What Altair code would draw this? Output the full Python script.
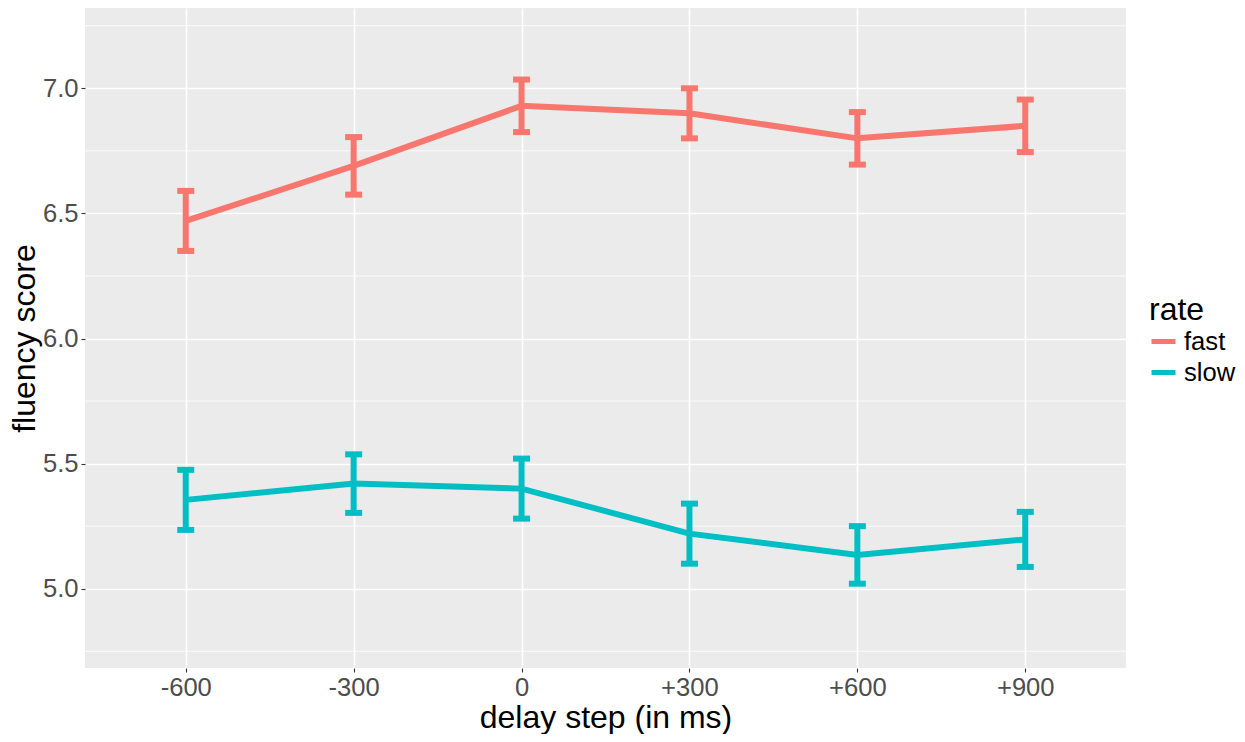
import altair as alt
import pandas as pd

steps = ["-600", "-300", "0", "+300", "+600", "+900"]
fast_mean = [6.47, 6.69, 6.93, 6.90, 6.80, 6.85]
fast_err = [0.12, 0.115, 0.105, 0.10, 0.105, 0.105]
slow_mean = [5.355, 5.42, 5.40, 5.22, 5.135, 5.197]
slow_err = [0.12, 0.117, 0.12, 0.12, 0.115, 0.11]
y_ticks = [5.0, 5.5, 6.0, 6.5, 7.0]
y_minor = [4.75, 5.25, 5.75, 6.25, 6.75, 7.25]

rows = []
for s, m, e in zip(steps, fast_mean, fast_err):
    rows.append({"step": s, "rate": "fast", "score": m, "lo": m - e, "hi": m + e})
for s, m, e in zip(steps, slow_mean, slow_err):
    rows.append({"step": s, "rate": "slow", "score": m, "lo": m - e, "hi": m + e})
df = pd.DataFrame(rows)
minor_df = pd.DataFrame({"v": y_minor})

FONT = "Liberation Sans"
yscale = alt.Scale(domain=[4.683, 7.321], nice=False, zero=False)
yaxis = alt.Axis(title="fluency score", values=y_ticks, format=".1f")
xenc = alt.X("step:N", sort=steps, scale=alt.Scale(type="point", padding=0.6),
             axis=alt.Axis(title="delay step (in ms)", labelAngle=0))
legend = alt.Legend(title="rate", orient="none", legendX=1064, legendY=287,
                    symbolType="stroke", symbolStrokeWidth=5, symbolSize=576)
cenc = alt.Color("rate:N", scale=alt.Scale(domain=["fast", "slow"], range=["#F8766D", "#00BFC4"]),
                 legend=legend)

minor = alt.Chart(minor_df).mark_rule(color="white", strokeWidth=0.8).encode(
    y=alt.Y("v:Q", scale=yscale, axis=yaxis)
)

base = alt.Chart(df)
line = base.mark_line(strokeWidth=6).encode(
    x=xenc,
    y=alt.Y("score:Q", scale=yscale, axis=yaxis),
    color=cenc,
)
rule = base.mark_rule(strokeWidth=6).encode(
    x=xenc, y=alt.Y("lo:Q", scale=yscale, axis=yaxis), y2="hi:Q", color=cenc
)
cap_lo = base.mark_tick(size=17, thickness=6, opacity=1).encode(
    x=xenc, y=alt.Y("lo:Q", scale=yscale, axis=yaxis), color=cenc
)
cap_hi = base.mark_tick(size=17, thickness=6, opacity=1).encode(
    x=xenc, y=alt.Y("hi:Q", scale=yscale, axis=yaxis), color=cenc
)

chart = alt.layer(minor, line, rule, cap_lo, cap_hi).properties(
    width=1041, height=660,
    autosize=alt.AutoSizeParams(type="none"),
    padding={"left": 77, "top": 0, "right": 110, "bottom": 66},
).configure_view(
    fill="#EBEBEB", stroke=None
).configure_axis(
    grid=True, gridColor="white", gridWidth=1.6, domain=False,
    tickColor="#333333", tickSize=4, tickWidth=1.1,
    labelFont=FONT, labelFontSize=25.6, labelColor="#4D4D4D", labelPadding=3,
    titleFont=FONT, titleFontSize=32, titleColor="black", titleFontWeight="normal",
).configure_axisX(
    titlePadding=2
).configure_axisY(
    titlePadding=1
).configure_legend(
    titleFont=FONT, titleFontSize=32, titleColor="black", titleFontWeight="normal",
    labelFont=FONT, labelFontSize=25.6, labelColor="black", titlePadding=0,
    rowPadding=2, labelOffset=6,
)

chart.save("out.html", embed_options={"renderer": "svg", "actions": False})
